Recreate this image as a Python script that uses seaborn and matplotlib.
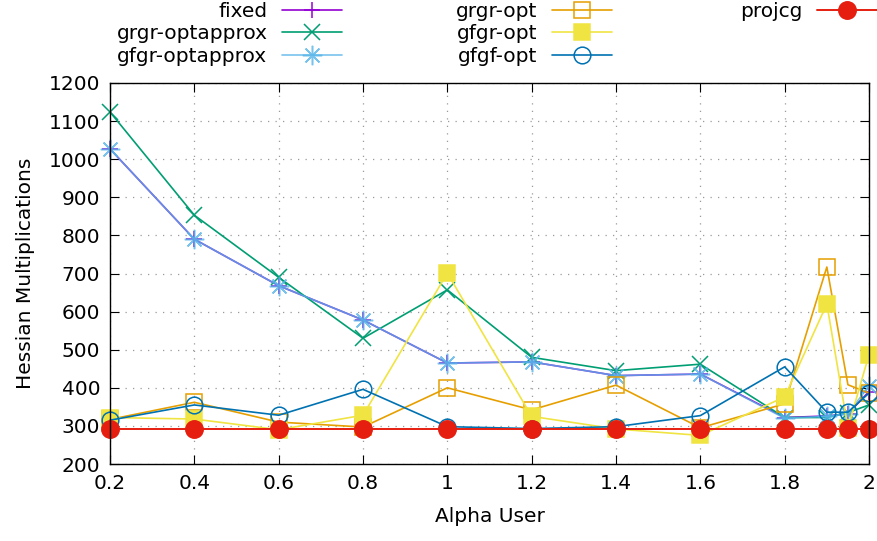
import matplotlib
matplotlib.use("Agg")
import matplotlib.pyplot as plt
import seaborn as sns

# ---- data ----
alpha_user = [0.2, 0.4, 0.6, 0.8, 1.0, 1.2, 1.4, 1.6, 1.8, 1.9, 1.95, 2.0]
fixed = [1027, 790, 668, 578, 465, 468, 432, 436, 322, 326, 332, 390]
grgr_optapprox = [1124, 853, 690, 530, 657, 480, 445, 462, 322, 322, 335, 355]
gfgr_optapprox = [1027, 790, 668, 578, 465, 468, 432, 436, 320, 325, 332, 405]
grgr_opt = [317, 362, 310, 297, 400, 342, 407, 295, 358, 717, 408, 386]
gfgr_opt = [322, 318, 290, 328, 701, 325, 292, 275, 376, 620, 295, 487]
gfgf_opt = [315, 355, 328, 396, 298, 293, 298, 327, 455, 336, 336, 386]
projcg = [293, 293, 293, 293, 293, 293, 293, 293, 293, 293, 293, 293]

series_names = ["fixed", "grgr-optapprox", "gfgr-optapprox",
                "grgr-opt", "gfgr-opt", "gfgf-opt", "projcg"]
x_ticks = [0.2, 0.4, 0.6, 0.8, 1.0, 1.2, 1.4, 1.6, 1.8, 2.0]
x_tick_labels = ["0.2", "0.4", "0.6", "0.8", "1", "1.2", "1.4", "1.6", "1.8", "2"]
y_ticks = [200, 300, 400, 500, 600, 700, 800, 900, 1000, 1100, 1200]

sns.set_theme(style="ticks")
plt.rcParams["font.family"] = ["DejaVu Sans"]
plt.rcParams["text.color"] = "black"
plt.rcParams["axes.labelcolor"] = "black"
FS = 14.5

fig = plt.figure(figsize=(8.78, 5.41), dpi=100)
W, H = 878, 541
ax = fig.add_axes([110 / W, (H - 464) / H, 759 / W, 381 / H])

styles = [
    dict(color="#9400D3", marker="+", markersize=12, mfc="none", lw=1.2, alpha=1.0),
    dict(color="#009E73", marker="x", markersize=11, mfc="none", lw=1.2, alpha=1.0),
    dict(color="#56B4E9", marker=(8, 2, 0), markersize=14, mfc="none", lw=1.2, alpha=0.8),
    dict(color="#E69F00", marker="s", markersize=11, mfc="none", lw=1.2, alpha=1.0),
    dict(color="#F0E442", marker="s", markersize=11.5, mfc="#F0E442", lw=1.2, alpha=1.0),
    dict(color="#0072B2", marker="o", markersize=12, mfc="none", lw=1.2, alpha=1.0),
    dict(color="#E51E10", marker="o", markersize=12.5, mfc="#E51E10", lw=1.4, alpha=1.0),
]
data = [fixed, grgr_optapprox, gfgr_optapprox, grgr_opt, gfgr_opt, gfgf_opt, projcg]

handles = []
for name, vals, st in zip(series_names, data, styles):
    sns.lineplot(x=alpha_user, y=vals, ax=ax, color=st["color"], marker=st["marker"],
                 markersize=st["markersize"], markerfacecolor=st["mfc"],
                 markeredgecolor=st["color"], markeredgewidth=1.1,
                 linewidth=st["lw"], alpha=st["alpha"], legend=False,
                 clip_on=False, zorder=3)
    handles.append(ax.lines[-1])

ax.set_xlim(0.2, 2.0)
ax.set_ylim(200, 1200)
ax.set_xticks(x_ticks)
ax.set_xticklabels(x_tick_labels)
ax.set_yticks(y_ticks)
ax.grid(True, color="#9a9a9a", linestyle=(0, (1, 5)), linewidth=0.9)
ax.set_axisbelow(True)
for sp in ax.spines.values():
    sp.set_visible(True)
    sp.set_color("black")
    sp.set_linewidth(1.0)
    sp.set_zorder(5)
ax.tick_params(direction="in", top=True, right=True, length=6.5, width=0.8,
               labelsize=FS, colors="black", pad=7)
ax.set_xlabel("Alpha User", fontsize=FS, labelpad=10, color="black")
ax.set_ylabel("Hessian Multiplications", fontsize=FS, labelpad=10, color="black")

# gnuplot-style key: three columns, text right-aligned before the sample
groups = [(0, 3, 342), (3, 6, 612), (6, 7, 877)]
for a, b, right in groups:
    leg = fig.legend(handles[a:b], series_names[a:b], loc="upper right",
                     bbox_to_anchor=(right / W, 1.0 - 2 / H), frameon=False,
                     markerfirst=False, handlelength=3.0, handletextpad=0.7,
                     labelspacing=0.17, borderpad=0.0, borderaxespad=0.0,
                     fontsize=FS, numpoints=1)
    for t in leg.get_texts():
        t.set_color("black")

fig.savefig("out.png", dpi=100)
